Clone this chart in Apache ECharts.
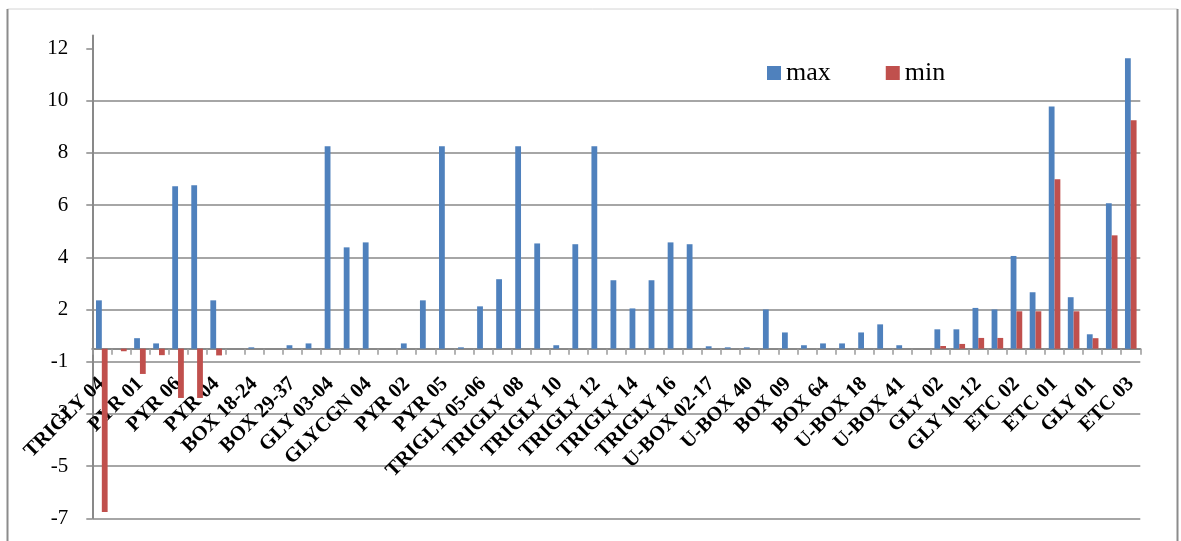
<!DOCTYPE html>
<html>
<head>
<meta charset="utf-8">
<script src="https://cdn.jsdelivr.net/npm/echarts@6/dist/echarts.min.js"></script>
<style>
  html, body { margin: 0; padding: 0; background: #fff; }
  #chart { width: 1181px; height: 541px; }
</style>
</head>
<body>
<div id="chart"></div>
<script>
// Labels printed under every second category
const shownLabels = [
  'TRIGLY 04', 'PYR 01', 'PYR 06', 'PYR 04', 'BOX 18-24', 'BOX 29-37', 'GLY 03-04',
  'GLYCGN 04', 'PYR 02', 'PYR 05', 'TRIGLY 05-06', 'TRIGLY 08', 'TRIGLY 10', 'TRIGLY 12',
  'TRIGLY 14', 'TRIGLY 16', 'U-BOX 02-17', 'U-BOX 40', 'BOX 09', 'BOX 64', 'U-BOX 18',
  'U-BOX 41', 'GLY 02', 'GLY 10-12', 'ETC 02', 'ETC 01', 'GLY 01', 'ETC 03'
];

// Bar heights measured from the category axis line
const maxValues = [
  1.85, 0, 0.4, 0.2, 6.22, 6.26, 1.85, 0, 0.05, 0, 0.13, 0.2, 7.75, 3.88, 4.07, 0,
  0.2, 1.85, 7.75, 0.05, 1.62, 2.66, 7.75, 4.03, 0.13, 4.0, 7.75, 2.62, 1.54, 2.62,
  4.07, 4.0, 0.09, 0.05, 0.05, 1.5, 0.62, 0.13, 0.2, 0.2, 0.62, 0.93, 0.13, 0, 0.74,
  0.74, 1.56, 1.5, 3.55, 2.16, 9.28, 1.97, 0.55, 5.57, 11.12
];
const minValues = [
  -6.26, -0.1, -0.97, -0.25, -1.89, -1.89, -0.26, 0, 0, 0, 0, 0, 0, 0, 0, 0,
  0, 0, 0, 0, 0, 0, 0, 0, 0, 0, 0, 0, 0, 0, 0, 0, 0, 0, 0, 0, 0, 0, 0, 0, 0, 0, 0, 0,
  0.1, 0.18, 0.41, 0.41, 1.43, 1.43, 6.49, 1.43, 0.4, 4.34, 8.75
];

// Value-axis tick positions and the numbers printed beside them
const yTickValues = [-6.5, -4.5, -2.5, -0.5, 1.5, 3.5, 5.5, 7.5, 9.5, 11.5];
const yTickLabels = ['-7', '-5', '-3', '-1', '2', '4', '6', '8', '10', '12'];

// Every labelled category is followed by an unlabelled one
const categories = [];
shownLabels.forEach((name, i) => {
  categories.push(name);
  if (i < shownLabels.length - 1) categories.push('');
});

const SERIF = '"Liberation Serif", "Times New Roman", serif';
const GRID_GRAY = '#898989';

const Y_MIN = -6.5, Y_MAX = 12;
const GRID_TOP = 35.4, GRID_BOTTOM_PX = 518.3;
// the category axis sits on the zero line, lifted from the bottom edge of the grid
const zeroPx = GRID_TOP + (Y_MAX - 0) / (Y_MAX - Y_MIN) * (GRID_BOTTOM_PX - GRID_TOP);
const xAxisOffset = -(GRID_BOTTOM_PX - zeroPx);

const chart = echarts.init(document.getElementById('chart'), null, { renderer: 'canvas' });

chart.setOption({
  animation: false,
  backgroundColor: '#ffffff',
  color: ['#4F81BD', '#C0504D'],
  graphic: [
    { type: 'line', shape: { x1: 7.5, y1: 9, x2: 1177.5, y2: 9 }, style: { stroke: '#d4d4d4', lineWidth: 1 }, silent: true },
    { type: 'line', shape: { x1: 7.5, y1: 9, x2: 7.5, y2: 560 }, style: { stroke: '#8c8c8c', lineWidth: 2 }, silent: true },
    { type: 'line', shape: { x1: 1177.5, y1: 9, x2: 1177.5, y2: 560 }, style: { stroke: '#8c8c8c', lineWidth: 2 }, silent: true }
  ],
  legend: {
    data: ['max', 'min'],
    left: 762,
    top: 55,
    icon: 'rect',
    itemWidth: 14,
    itemHeight: 14,
    itemGap: 55,
    textStyle: { fontFamily: SERIF, fontSize: 26, color: '#000' }
  },
  grid: {
    left: 92.3,
    right: 40.7,
    top: GRID_TOP,
    bottom: 541 - GRID_BOTTOM_PX,
    containLabel: false,
    outerBoundsMode: 'none'
  },
  xAxis: {
    type: 'category',
    data: categories,
    boundaryGap: true,
    offset: xAxisOffset,
    axisLine: { onZero: false, lineStyle: { color: GRID_GRAY, width: 2 } },
    axisTick: { show: true, interval: 0, length: 6, lineStyle: { color: '#9a9a9a', width: 1.5 } },
    axisLabel: {
      interval: 0,
      rotate: 45,
      margin: 32,
      fontFamily: SERIF,
      fontWeight: 'bold',
      fontSize: 20.5,
      color: '#000'
    },
    splitLine: { show: false }
  },
  yAxis: {
    type: 'value',
    min: Y_MIN,
    max: Y_MAX,
    interval: 2,
    axisLine: { show: true, lineStyle: { color: GRID_GRAY, width: 2 } },
    axisTick: { show: true, length: 6, customValues: yTickValues, lineStyle: { color: GRID_GRAY, width: 1.5 } },
    axisLabel: {
      customValues: yTickValues,
      margin: 24,
      fontFamily: SERIF,
      fontSize: 21,
      color: '#000',
      formatter: function (v) {
        const idx = yTickValues.indexOf(v);
        return idx >= 0 ? yTickLabels[idx] : '';
      }
    },
    splitLine: { show: true, showMaxLine: false, lineStyle: { color: GRID_GRAY, width: 1.5 } }
  },
  series: [
    { name: 'max', type: 'bar', data: maxValues, barWidth: 5.8, barGap: '0%' },
    { name: 'min', type: 'bar', data: minValues, barWidth: 5.8, barGap: '0%' }
  ]
});
</script>
</body>
</html>
